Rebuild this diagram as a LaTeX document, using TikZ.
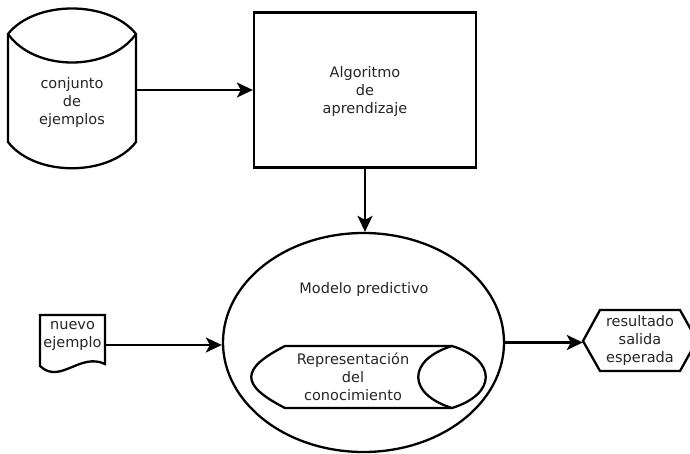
\documentclass[tikz,border=0pt]{standalone}
\usepackage{fontspec}
\setmainfont{DejaVu Sans}
\usepackage{tikz}
\usetikzlibrary{arrows.meta}
\usetikzlibrary{shapes.geometric}
\usetikzlibrary{positioning}
\tikzstyle{shapeline}=[black, draw=black, line width=2.3pt, fill=white]
\tikzstyle{procnode}=[black, draw=black, line width=2.3pt, shape=rectangle, fill=white, inner sep=0pt]
\tikzstyle{modelnode}=[black, draw=black, line width=2.3pt, shape=ellipse, fill=white, inner sep=0pt]
\tikzstyle{anchorbox}=[shape=rectangle, inner sep=0pt, minimum height=1pt]
\tikzstyle{labeltext}=[text=black!85, align=center, inner sep=0pt, font=\fontsize{14.5}{18}\selectfont]
\tikzstyle{flowarrow}=[-{Stealth[length=16pt, width=15pt, inset=4pt]}, line width=2.3pt, color=black]

\begin{document}
\begin{tikzpicture}[x=1pt, y=-1pt]
\useasboundingbox (0,0) rectangle (690,454);

\draw [shapeline] (8,34) -- (8,142) .. controls (35,177) and (109,177) .. (136,142) -- (136,34) .. controls (109,0) and (35,0) .. (8,34) -- cycle;
\draw [shapeline] (8,34) .. controls (35,72) and (109,72) .. (136,34);
\node [anchorbox, minimum width=128pt] (examples) at (72,90) {};
\node [labeltext] (examplestext) at (72,103) {conjunto\\de\\ejemplos};

\node [procnode, minimum width=222pt, minimum height=155pt] (algo) at (365,90) {};
\node [labeltext] (algotext) at (365,92) {Algoritmo\\de\\aprendizaje};

\node [modelnode, minimum width=281pt, minimum height=219pt] (model) at (363.5,342.5) {};
\node [labeltext] (modeltext) at (364,289) {Modelo predictivo};
\draw [shapeline] (285,346) -- (452,346) .. controls (497,360) and (497,394) .. (452,408) -- (285,408) .. controls (240,385) and (240,369) .. (285,346) -- cycle;
\draw [shapeline] (452,346) .. controls (407,360) and (407,394) .. (452,408);
\node [labeltext] (knowledge) at (353,377) {Representación\\del\\conocimiento};

\draw [shapeline] (40,315) -- (105,315) -- (105,364) .. controls (80,352) and (60,385) .. (40,366) -- cycle;
\node [anchorbox, minimum width=65pt] (newex) at (72.5,345) {};
\node [labeltext] (newextext) at (72.5,336) {nuevo\\ejemplo};

\draw [shapeline] (583,341) -- (600,310) -- (680,310) -- (697,340.5) -- (680,371) -- (600,371) -- cycle;
\node [anchorbox, minimum width=114pt] (result) at (640,342) {};
\node [labeltext] (resulttext) at (640,340.5) {resultado\\salida\\esperada};

\draw [flowarrow] (examples.east) -- (algo.west);
\draw [flowarrow] (algo.south) -- (algo.south |- model.north);
\draw [flowarrow] (newex.east) -- (newex.east -| model.west);
\draw [flowarrow] (model.east) -- (model.east -| result.west);
\end{tikzpicture}
\end{document}
